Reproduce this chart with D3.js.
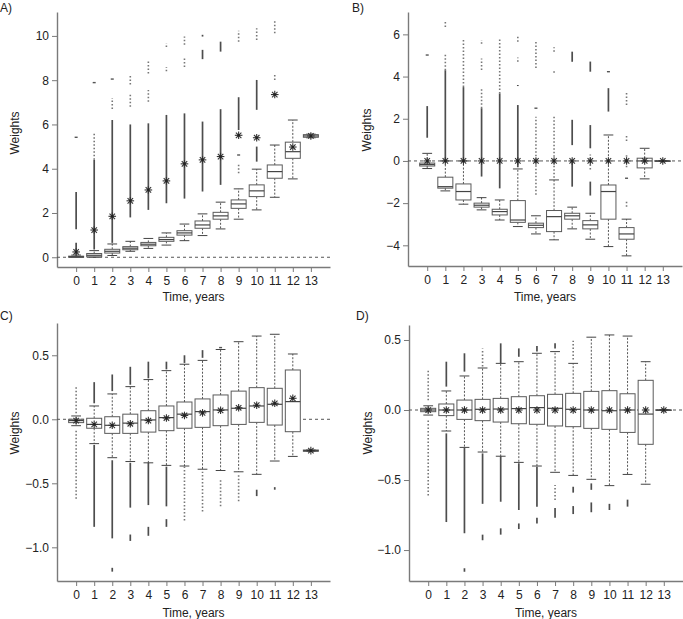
<!DOCTYPE html>
<html><head><meta charset="utf-8">
<script src="https://cdn.jsdelivr.net/npm/d3@7/dist/d3.min.js"></script>
<style>body{margin:0;background:#fff}svg{display:block;font-family:"Liberation Sans",Arial,sans-serif}</style>
</head><body>
<svg id="c" width="683" height="619"></svg>
<script>
const years = [0,1,2,3,4,5,6,7,8,9,10,11,12,13];
const xTickLabels = years.map(String);
const xTitle = "Time, years";
const yTitle = "Weights";

// Panel A
const aTicks = [0,2,4,6,8,10];
const aQ1  = [0,0.02,0.19,0.34,0.52,0.72,1.0,1.31,1.72,2.21,2.74,3.57,4.47,5.42];
const aMed = [0.02,0.09,0.27,0.41,0.59,0.8,1.1,1.46,1.87,2.41,3.0,3.87,4.77,5.48];
const aQ3  = [0.05,0.17,0.36,0.48,0.67,0.9,1.2,1.64,2.03,2.59,3.27,4.17,5.2,5.54];
const aLo  = [0,0,0.08,0.27,0.4,0.55,0.75,0.98,1.28,1.72,2.14,2.71,3.54,5.4];
const aHi  = [0.1,0.3,0.6,0.72,0.85,1.1,1.5,1.96,2.49,3.09,3.98,5.07,6.2,5.56];
const aMean= [0.24,1.23,1.85,2.55,3.04,3.45,4.22,4.4,4.55,5.51,5.4,7.35,4.98,5.48];
const aOut = [
 [[0.12,0.65,0],[1.27,2.95,0],[5.42,5.42,0]],
 [[0.35,4.4,0],[4.4,5.6,1],[7.89,7.89,0]],
 [[0.65,6.2,0],[6.7,7.2,1],[8.05,8.05,0]],
 [[1.8,6.0,0],[6.8,7.4,1],[7.8,8.25,1]],
 [[2.14,6.05,0],[7.03,7.56,1],[8.3,8.84,1]],
 [[2.44,6.43,0],[8.4,8.6,1],[9.5,9.67,1]],
 [[2.65,6.5,0],[8.6,9.0,1],[9.6,9.97,1]],
 [[2.97,6.13,0],[8.95,9.37,0],[9.97,10.05,0]],
 [[3.27,6.69,0],[9.29,9.74,0]],
 [[3.8,4.27,1],[4.62,4.62,0],[5.75,7.23,0],[9.74,10.23,1]],
 [[4.32,5.0,0],[6.66,8.01,0],[9.82,10.35,1]],
 [[8.01,8.27,1],[10.12,10.72,1]],
 [],[]
];

// Panel B
const bTicks = [-4,-2,0,2,4,6];
const bQ1  = [-0.24,-1.29,-1.85,-2.19,-2.56,-2.91,-3.16,-3.35,-2.76,-3.22,-2.76,-3.71,-0.33,0];
const bMed = [-0.17,-1.22,-1.45,-2.1,-2.4,-2.8,-3.05,-2.64,-2.6,-3.03,-1.45,-3.46,0.0,0];
const bQ3  = [-0.1,-0.77,-1.09,-2.0,-2.29,-1.88,-2.95,-2.35,-2.48,-2.83,-1.14,-3.16,0.13,0];
const bLo  = [-0.36,-1.42,-2.05,-2.32,-2.8,-3.11,-3.46,-3.74,-3.22,-3.71,-4.06,-4.5,-0.85,0];
const bHi  = [0.36,0.0,0.0,-1.74,-1.85,-0.38,-2.6,-0.9,-2.19,-2.48,1.23,-2.76,0.6,0];
const bMean= [0,0,0,0,0,0,0,0,0,0,0,0,0,0];
const bOut = [
 [[1.1,2.6,0],[5.02,5.02,0]],
 [[0.05,4.3,0],[4.3,5.05,1],[6.35,6.6,1]],
 [[0.05,3.5,0],[3.5,5.8,1]],
 [[-0.74,2.5,0],[2.5,3.44,1],[4.31,4.85,1],[5.55,5.73,1]],
 [[-1.3,3.2,0],[3.2,5.85,1]],
 [[-0.3,2.65,0],[3.55,3.6,0],[4.7,4.9,1],[5.65,5.9,1]],
 [[-1.6,2.1,1],[2.5,2.5,0],[4.4,5.7,1]],
 [[-0.8,2.1,1],[4.18,4.35,1],[5.18,5.39,1]],
 [[-1.22,0.05,0],[0.75,1.95,0],[4.7,5.18,0]],
 [[-1.64,-0.98,0],[-0.4,0.3,1],[0.6,1.7,0],[4.23,4.71,0]],
 [[2.34,3.45,0],[4.23,4.23,0]],
 [[-2.17,-1.85,1],[-0.82,-0.82,0],[-0.3,0.3,1],[0.95,1.2,1],[2.65,3.28,1]],
 [],[]
];

// Panel C
const cTicks = [-1.0,-0.5,0.0,0.5];
const cQ1  = [-0.026,-0.07,-0.11,-0.11,-0.1,-0.089,-0.07,-0.063,-0.05,-0.04,-0.024,-0.045,-0.097,-0.25];
const cMed = [-0.01,-0.04,-0.047,-0.03,-0.005,0.013,0.04,0.06,0.073,0.086,0.104,0.117,0.138,-0.245];
const cQ3  = [0.0,0.008,0.02,0.04,0.067,0.104,0.135,0.159,0.19,0.22,0.247,0.242,0.385,-0.24];
const cLo  = [-0.05,-0.19,-0.3,-0.33,-0.34,-0.36,-0.365,-0.39,-0.4,-0.41,-0.43,-0.326,-0.29,-0.25];
const cHi  = [0.026,0.104,0.198,0.255,0.31,0.38,0.43,0.46,0.545,0.606,0.65,0.664,0.51,-0.24];
const cMean= [-0.01,-0.04,-0.047,-0.035,-0.01,0.01,0.03,0.05,0.07,0.09,0.11,0.125,0.164,-0.245];
const cOut = [
 [[0.047,0.26,1],[-0.62,-0.08,1]],
 [[0.125,0.29,0],[-0.84,-0.2,0]],
 [[0.22,0.35,0],[-0.93,-0.32,0],[-1.19,-1.16,0]],
 [[0.27,0.41,0],[-0.69,-0.34,0],[-0.95,-0.9,0]],
 [[0.32,0.45,0],[-0.67,-0.34,0],[-0.91,-0.84,0]],
 [[0.39,0.45,0],[-0.68,-0.37,0],[-0.84,-0.78,0]],
 [[0.44,0.5,0],[-0.79,-0.37,1]],
 [[0.48,0.54,0],[-0.72,-0.41,1]],
 [[0.56,0.56,0],[-0.68,-0.46,1]],
 [[-0.64,-0.435,1]],
 [[-0.6,-0.55,0]],
 [[-0.55,-0.53,0]],
 [],[]
];

// Panel D
const dTicks = [-1.0,-0.5,0.0,0.5];
const dQ1  = [-0.012,-0.04,-0.067,-0.076,-0.086,-0.098,-0.102,-0.114,-0.119,-0.131,-0.138,-0.16,-0.245,0];
const dMed = [0,0,0,0.005,0.007,0.01,0.017,0.012,0.005,0,-0.005,0,-0.029,0];
const dQ3  = [0.012,0.043,0.071,0.076,0.083,0.095,0.102,0.112,0.119,0.133,0.138,0.116,0.212,0];
const dLo  = [-0.036,-0.15,-0.267,-0.3,-0.33,-0.374,-0.4,-0.445,-0.467,-0.495,-0.54,-0.46,-0.53,0];
const dHi  = [0.03,0.136,0.243,0.3,0.333,0.345,0.405,0.417,0.333,0.52,0.536,0.528,0.345,0];
const dMean= [0,0,0,0,0,0,0,0,0,0,0,0,0,0];
const dOut = [
 [[0.07,0.286,1],[-0.61,-0.07,1]],
 [[0.167,0.345,0],[-0.8,-0.167,0]],
 [[0.274,0.405,0],[-0.88,-0.27,0],[-1.155,-1.13,0]],
 [[0.31,0.44,1],[-0.67,-0.31,0],[-0.93,-0.89,0]],
 [[0.333,0.476,0],[-0.655,-0.33,0],[-0.89,-0.845,0]],
 [[0.38,0.44,0],[-0.714,-0.38,0],[-0.85,-0.81,0]],
 [[0.417,0.457,0],[-0.69,-0.405,0],[-0.81,-0.77,0]],
 [[0.44,0.476,0],[-0.643,-0.536,1],[-0.77,-0.7,0]],
 [[0.36,0.495,1],[-0.59,-0.548,0],[-0.743,-0.686,0]],
 [[-0.57,-0.524,0],[-0.73,-0.66,0]],
 [[-0.714,-0.67,0]],
 [[-0.69,-0.64,0]],
 [],[]
];

const svg = d3.select("#c");
const FS = 12;
const panels = [
 {lab:"A)", lx:0, ly:12, x0:57, x1:330, yt:12, yb:267, dom:[-0.44,11.08], ticks:aTicks, fmt:d3.format("d"),
  q1:aQ1, med:aMed, q3:aQ3, lo:aLo, hi:aHi, mean:aMean, out:aOut, wx:15, wy:133, tY:297},
 {lab:"B)", lx:352, ly:12, x0:408, x1:682, yt:12, yb:266, dom:[-4.98,7.06], ticks:bTicks, fmt:d3.format("d"),
  q1:bQ1, med:bMed, q3:bQ3, lo:bLo, hi:bHi, mean:bMean, out:bOut, wx:367, wy:130, tY:297},
 {lab:"C)", lx:0, ly:320, x0:57, x1:330, yt:323, yb:581, dom:[-1.263,0.752], ticks:cTicks, fmt:d3.format(".1f"),
  q1:cQ1, med:cMed, q3:cQ3, lo:cLo, hi:cHi, mean:cMean, out:cOut, wx:15, wy:433, tY:613},
 {lab:"D)", lx:356, ly:320, x0:409, x1:683, yt:325, yb:581, dom:[-1.221,0.607], ticks:dTicks, fmt:d3.format(".1f"),
  q1:dQ1, med:dMed, q3:dQ3, lo:dLo, hi:dHi, mean:dMean, out:dOut, wx:368, wy:433, tY:613}
];

panels.forEach(p => {
  const g = svg.append("g");
  const x = d3.scaleLinear().domain([-1.06, 14.06]).range([p.x0, p.x1]);
  const y = d3.scaleLinear().domain(p.dom).range([p.yb, p.yt]);
  const bw = 0.83 * (x(1) - x(0));
  const cw = 0.27 * (x(1) - x(0));

  const ya = g.append("g").attr("transform", `translate(${p.x0},0)`)
    .call(d3.axisLeft(y).tickValues(p.ticks).tickFormat(p.fmt).tickSize(5).tickSizeOuter(0).tickPadding(3));
  const xa = g.append("g").attr("transform", `translate(0,${p.yb})`)
    .call(d3.axisBottom(x).tickValues(years).tickFormat((d,i)=>xTickLabels[i]).tickSize(5).tickSizeOuter(0).tickPadding(4));
  [ya, xa].forEach(a => {
    a.select(".domain").attr("stroke", "#7a7a7a").attr("stroke-width", 1.4);
    a.selectAll(".tick line").attr("stroke", "#7a7a7a");
    a.selectAll("text").attr("font-size", FS).attr("fill", "#222").attr("font-family", "Liberation Sans, Arial, sans-serif");
  });

  g.append("line").attr("x1", p.x0).attr("x2", p.x1).attr("y1", y(0)).attr("y2", y(0))
    .attr("stroke", "#555").attr("stroke-width", 1).attr("stroke-dasharray", "3,3");

  years.forEach((yr, i) => {
    const cx = x(yr);
    const bg = g.append("g");
    p.out[i].forEach(s => {
      if (s[0] === s[1]) {
        bg.append("line").attr("x1", cx - 1.5).attr("x2", cx + 1.5).attr("y1", y(s[0])).attr("y2", y(s[0]))
          .attr("stroke", "#555").attr("stroke-width", 1.4);
      } else {
        bg.append("line").attr("x1", cx).attr("x2", cx).attr("y1", y(s[0])).attr("y2", y(s[1]))
          .attr("stroke", s[2] ? "#777" : "#4d4d4d").attr("stroke-width", s[2] ? 1.6 : 1.7)
          .attr("stroke-dasharray", s[2] ? "1.5,2" : null);
      }
    });
    [[p.q3[i], p.hi[i]], [p.q1[i], p.lo[i]]].forEach(w => {
      if (w[0] !== w[1]) bg.append("line").attr("x1", cx).attr("x2", cx).attr("y1", y(w[0])).attr("y2", y(w[1]))
        .attr("stroke", "#555").attr("stroke-width", 1).attr("stroke-dasharray", "2,1.6");
      bg.append("line").attr("x1", cx - cw).attr("x2", cx + cw).attr("y1", y(w[1])).attr("y2", y(w[1]))
        .attr("stroke", "#444").attr("stroke-width", 1);
    });
    bg.append("rect").attr("x", cx - bw/2).attr("width", bw)
      .attr("y", y(p.q3[i])).attr("height", Math.max(0.5, y(p.q1[i]) - y(p.q3[i])))
      .attr("fill", "#fff").attr("stroke", "#5a5a5a").attr("stroke-width", 1);
    bg.append("line").attr("x1", cx - bw/2).attr("x2", cx + bw/2).attr("y1", y(p.med[i])).attr("y2", y(p.med[i]))
      .attr("stroke", "#444").attr("stroke-width", 1.2);
    const my = y(p.mean[i]), r = 3.8, r2 = r * 0.72;
    const st = bg.append("g").attr("stroke", "#333").attr("stroke-width", 1.1);
    st.append("line").attr("x1", cx - r).attr("x2", cx + r).attr("y1", my).attr("y2", my);
    st.append("line").attr("x1", cx).attr("x2", cx).attr("y1", my - r).attr("y2", my + r);
    st.append("line").attr("x1", cx - r2).attr("x2", cx + r2).attr("y1", my - r2).attr("y2", my + r2);
    st.append("line").attr("x1", cx - r2).attr("x2", cx + r2).attr("y1", my + r2).attr("y2", my - r2);
    st.append("circle").attr("cx", cx).attr("cy", my).attr("r", 1.3).attr("fill", "#222").attr("stroke", "none");
  });

  g.append("text").attr("x", p.lx).attr("y", p.ly).attr("font-size", FS).attr("fill", "#222").text(p.lab);
  g.append("text").attr("transform", `translate(${p.wx + 4},${p.wy}) rotate(-90)`).attr("text-anchor", "middle")
    .attr("font-size", FS).attr("fill", "#222").text(yTitle);
  g.append("text").attr("x", (p.x0 + p.x1) / 2).attr("y", p.tY + 4).attr("text-anchor", "middle")
    .attr("font-size", FS).attr("fill", "#222").text(xTitle);
});
</script>
</body></html>
